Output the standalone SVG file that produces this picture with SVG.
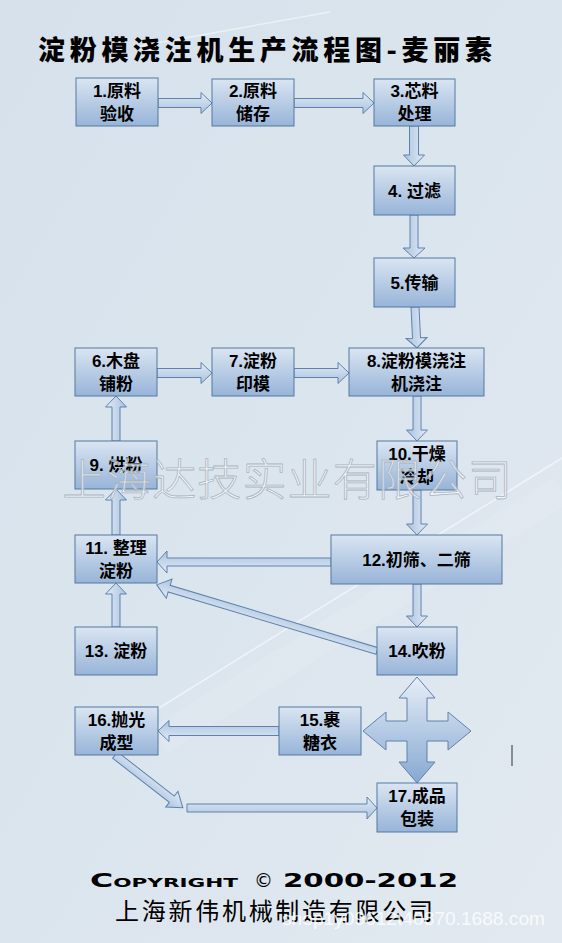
<svg xmlns="http://www.w3.org/2000/svg" width="562" height="943" viewBox="0 0 562 943">
<defs>
<linearGradient id="bg" x1="0" y1="0" x2="1" y2="1">
<stop offset="0" stop-color="#d6e1eb"/>
<stop offset="0.5" stop-color="#dbe5ee"/>
<stop offset="1" stop-color="#e2e9f0"/>
</linearGradient>
<linearGradient id="boxG" x1="0" y1="0" x2="0" y2="1">
<stop offset="0" stop-color="#dae5f2"/>
<stop offset="1" stop-color="#97b4d8"/>
</linearGradient>
<linearGradient id="arrG" x1="0" y1="0" x2="0" y2="1">
<stop offset="0" stop-color="#e2ebf5"/>
<stop offset="1" stop-color="#a9c2df"/>
</linearGradient>
<linearGradient id="crossG" x1="0" y1="0" x2="0" y2="1">
<stop offset="0" stop-color="#e6eef7"/>
<stop offset="1" stop-color="#86a8d2"/>
</linearGradient>
</defs>
<style>
.box{fill:url(#boxG);stroke:#55789f;stroke-width:1}
.t{font-family:"Liberation Sans","Noto Sans CJK SC",sans-serif;font-weight:bold;font-size:17px;fill:#000;text-anchor:middle}
.arr{fill:url(#arrG);stroke:#5f82ac;stroke-width:1}
.cp{font-family:"DejaVu Sans",sans-serif;font-weight:bold;font-size:19px;fill:#000}
</style>
<rect width="562" height="943" fill="url(#bg)"/>
<g id="streaks" fill="none" stroke="#ffffff">
<line x1="140" y1="46" x2="330" y2="12" stroke-opacity="0.5" stroke-width="1.5"/>
<line x1="130" y1="726" x2="562" y2="458" stroke-opacity="0.55" stroke-width="1.5"/>
<line x1="160" y1="740" x2="562" y2="490" stroke-opacity="0.1" stroke-width="30"/>
</g>
<text x="38" y="60" textLength="454" lengthAdjust="spacing" style="font-family:'Noto Sans CJK SC',sans-serif;font-weight:900;font-size:27px;fill:#000">淀粉模浇注机生产流程图-麦丽素</text>

<g id="connectors">
<polygon class="arr" transform="translate(158,103)" points="0,-4.5 43,-4.5 43,-10.5 54,0 43,10.5 43,4.5 0,4.5"/>
<polygon class="arr" transform="translate(294,103)" points="0,-4.5 69,-4.5 69,-10.5 80,0 69,10.5 69,4.5 0,4.5"/>
<polygon class="arr" transform="translate(414,126) rotate(90)" points="0,-4.5 29,-4.5 29,-10.5 40,0 29,10.5 29,4.5 0,4.5"/>
<polygon class="arr" transform="translate(414,215) rotate(90)" points="0,-4 33,-4 33,-11 43,0 33,11 33,4 0,4"/>
<polygon class="arr" transform="translate(415,307) rotate(87.2)" points="0,-4 31,-4 31,-10.5 41,0 31,10.5 31,4 0,4"/>
<polygon class="arr" transform="translate(157,373)" points="0,-4.5 44,-4.5 44,-10.5 55,0 44,10.5 44,4.5 0,4.5"/>
<polygon class="arr" transform="translate(294,373)" points="0,-4.5 44,-4.5 44,-10.5 55,0 44,10.5 44,4.5 0,4.5"/>
<polygon class="arr" transform="translate(417,396) rotate(90)" points="0,-4 34,-4 34,-10.5 45,0 34,10.5 34,4 0,4"/>
<polygon class="arr" transform="translate(116,441) rotate(-90)" points="0,-4 34,-4 34,-10.5 45,0 34,10.5 34,4 0,4"/>
<polygon class="arr" transform="translate(116,535) rotate(-90)" points="0,-4 35,-4 35,-10.5 46,0 35,10.5 35,4 0,4"/>
<polygon class="arr" transform="translate(116,627) rotate(-90)" points="0,-4 33,-4 33,-10.5 44,0 33,10.5 33,4 0,4"/>
<polygon class="arr" transform="translate(417,490) rotate(90)" points="0,-4 34,-4 34,-10.5 45,0 34,10.5 34,4 0,4"/>
<polygon class="arr" transform="translate(331,562) rotate(180)" points="0,-4 164,-4 164,-11 174,0 164,11 164,4 0,4"/>
<polygon class="arr" transform="translate(417,584) rotate(90)" points="0,-4 32,-4 32,-10.5 43,0 32,10.5 32,4 0,4"/>
<polygon class="arr" transform="translate(377,651) rotate(196.7)" points="0,-3.5 217,-3.5 217,-10 230,0 217,10 217,3.5 0,3.5"/>
<polygon class="arr" transform="translate(279,731) rotate(180)" points="0,-4.5 110,-4.5 110,-10.5 121,0 110,10.5 110,4.5 0,4.5"/>
<polygon class="arr" transform="translate(115,755) rotate(37.9)" points="0,-4 72,-4 72,-10 86,0 72,10 72,4 0,4"/>
<polygon class="arr" transform="translate(187,808)" points="0,-4 180,-4 180,-11 190,0 180,11 180,4 0,4"/>
<polygon fill="url(#crossG)" stroke="#5f82ac" stroke-width="1" points="417,677 435,698 427,698 427,721 448,721 448,712 471,731 448,750 448,741 427,741 427,762 435,762 417,783 399,762 407,762 407,741 386,741 386,750 363,731 386,712 386,721 407,721 407,698 399,698"/>
</g>

<g id="n1"><rect class="box" x="76" y="78" width="82" height="48"/><text class="t" x="117" y="97">1.原料</text><text class="t" x="117" y="120">验收</text></g>
<g id="n2"><rect class="box" x="212" y="79" width="82" height="47"/><text class="t" x="253" y="97">2.原料</text><text class="t" x="253" y="120">储存</text></g>
<g id="n3"><rect class="box" x="374" y="79" width="81" height="47"/><text class="t" x="414.5" y="97">3.芯料</text><text class="t" x="414.5" y="120">处理</text></g>
<g id="n4"><rect class="box" x="374" y="166" width="81" height="49"/><text class="t" x="414.5" y="197">4. 过滤</text></g>
<g id="n5"><rect class="box" x="374" y="258" width="81" height="49"/><text class="t" x="414.5" y="289">5.传输</text></g>
<g id="n6"><rect class="box" x="75" y="348" width="82" height="48"/><text class="t" x="116" y="367">6.木盘</text><text class="t" x="116" y="390">铺粉</text></g>
<g id="n7"><rect class="box" x="212" y="348" width="82" height="48"/><text class="t" x="253" y="367">7.淀粉</text><text class="t" x="253" y="390">印模</text></g>
<g id="n8"><rect class="box" x="349" y="348" width="135" height="48"/><text class="t" x="416.5" y="367">8.淀粉模浇注</text><text class="t" x="416.5" y="390">机浇注</text></g>
<g id="n9"><rect class="box" x="75" y="441" width="82" height="48"/><text class="t" x="116" y="471">9. 烘粉</text></g>
<g id="n10"><rect class="box" x="377" y="441" width="80" height="49"/><text class="t" x="417" y="460">10.干燥</text><text class="t" x="417" y="483">冷却</text></g>
<g id="n11"><rect class="box" x="75" y="535" width="82" height="48"/><text class="t" x="116" y="554">11. 整理</text><text class="t" x="116" y="577">淀粉</text></g>
<g id="n12"><rect class="box" x="331" y="535" width="171" height="49"/><text class="t" x="416.5" y="566">12.初筛、二筛</text></g>
<g id="n13"><rect class="box" x="75" y="627" width="82" height="48"/><text class="t" x="116" y="657">13. 淀粉</text></g>
<g id="n14"><rect class="box" x="377" y="627" width="80" height="48"/><text class="t" x="417" y="657">14.吹粉</text></g>
<g id="n15"><rect class="box" x="279" y="707" width="82" height="48"/><text class="t" x="320" y="726">15.裹</text><text class="t" x="320" y="749">糖衣</text></g>
<g id="n16"><rect class="box" x="75" y="707" width="83" height="48"/><text class="t" x="116.5" y="726">16.抛光</text><text class="t" x="116.5" y="749">成型</text></g>
<g id="n17"><rect class="box" x="377" y="783" width="80" height="49"/><text class="t" x="417" y="802">17.成品</text><text class="t" x="417" y="825">包装</text></g>

<line x1="512" y1="745" x2="512" y2="766" stroke="#333" stroke-width="1"/>

<text x="62" y="496" textLength="450" lengthAdjust="spacing" style="font-family:'Noto Sans CJK SC',sans-serif;font-weight:300;font-size:44px;fill:#ffffff;fill-opacity:0.6;stroke:#aab4bf;stroke-width:0.8">上海达技实业有限公司</text>

<text class="cp" x="90" y="887" textLength="148" lengthAdjust="spacingAndGlyphs" style="font-variant:small-caps">Copyright</text>
<text x="254" y="887" style="font-family:'DejaVu Sans',sans-serif;font-size:19px;fill:#000">©</text>
<text class="cp" x="283" y="887" textLength="175" lengthAdjust="spacingAndGlyphs">2000-2012</text>
<text x="115" y="920" textLength="318" lengthAdjust="spacing" style="font-family:'Noto Sans CJK SC',sans-serif;font-weight:400;font-size:24px;fill:#000">上海新伟机械制造有限公司</text>
<text x="282" y="925" textLength="263" lengthAdjust="spacingAndGlyphs" style="font-family:'Liberation Sans',sans-serif;font-size:19px;fill:#ffffff;fill-opacity:0.8">shop1y09612t40870.1688.com</text>
</svg>
